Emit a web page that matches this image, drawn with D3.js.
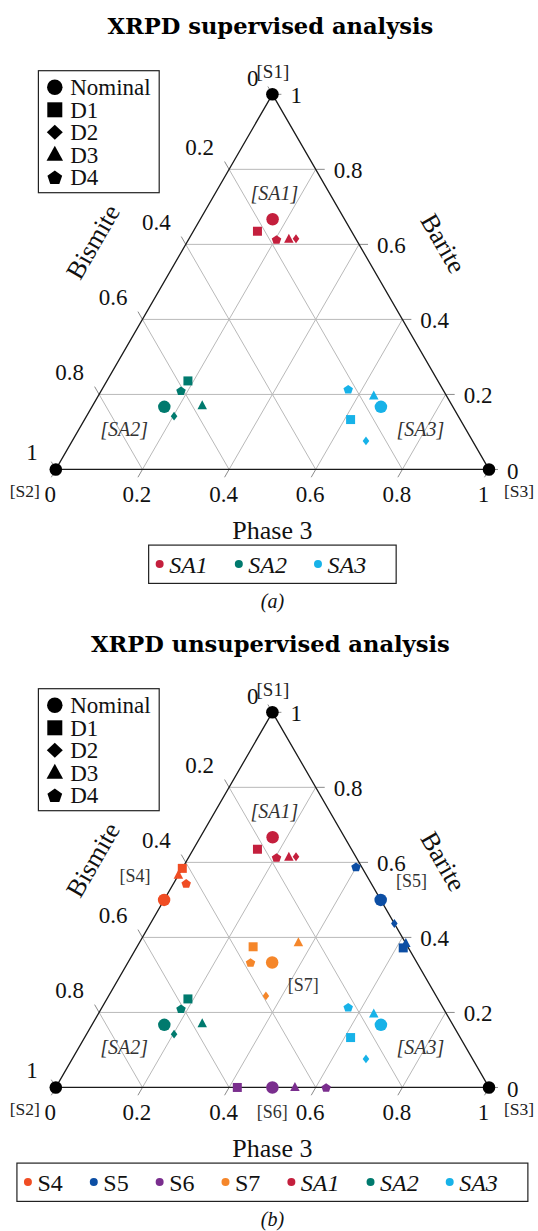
<!DOCTYPE html>
<html><head><meta charset="utf-8">
<script src="https://cdn.jsdelivr.net/npm/d3@7"></script>
<style>body{margin:0;background:#fff}svg{display:block}</style>
</head><body>
<svg id="c" width="538" height="1231"></svg>
<script>
// ---------- data ----------
const markerNames = ["Nominal", "D1", "D2", "D3", "D4"];
const markerShapes = ["circle", "square", "diamond", "triangle", "pentagon"];
const tickValues = [0, 0.2, 0.4, 0.6, 0.8, 1];
const tickLabels = ["0", "0.2", "0.4", "0.6", "0.8", "1"];
const axisNames = ["Bismite", "Barite", "Phase 3"];
const vertexNames = ["[S1]", "[S2]", "[S3]"];

// points: [marker, Barite, Phase 3]   (Bismite = 1 - Barite - Phase 3)
const SA1 = [["Nominal",0.667,0.167],["D1",0.635,0.148],["D2",0.615,0.247],["D3",0.614,0.231],["D4",0.613,0.203]];
const SA2 = [["Nominal",0.167,0.167],["D1",0.236,0.187],["D2",0.142,0.202],["D3",0.170,0.253],["D4",0.210,0.184]];
const SA3 = [["Nominal",0.167,0.667],["D1",0.133,0.614],["D2",0.076,0.678],["D3",0.196,0.636],["D4",0.214,0.568]];
const S4  = [["Nominal",0.500,0.000],["D1",0.584,0.000],["D3",0.566,0.000],["D4",0.544,0.029]];
const S5  = [["Nominal",0.500,0.500],["D1",0.372,0.616],["D2",0.437,0.563],["D3",0.384,0.616],["D4",0.588,0.399]];
const S6  = [["Nominal",0.000,0.500],["D1",0.000,0.419],["D3",0.000,0.552],["D4",0.000,0.624]];
const S7  = [["Nominal",0.333,0.333],["D1",0.375,0.268],["D2",0.244,0.363],["D3",0.386,0.367],["D4",0.333,0.283]];
const seriesNames = ["S4", "S5", "S6", "S7", "SA1", "SA2", "SA3"];
const seriesData = {S4, S5, S6, S7, SA1, SA2, SA3};
const seriesColors = ["#f04d24", "#0c4ea4", "#7a2e8e", "#f5862a", "#c41f3d", "#007a6e", "#17b2e8"];

// region labels: [text, Barite, Phase 3]
const regionsA = [["[SA1]",0.737,0.136],["[SA2]",0.107,0.104],["[SA3]",0.107,0.788]];
const regionsB = [["[SA1]",0.737,0.136],["[SA2]",0.107,0.104],["[SA3]",0.107,0.788],
                  ["[S4]",0.5635,-0.099],["[S5]",0.552,0.545],["[S6]",-0.065,0.532],["[S7]",0.273,0.435]];

const charts = [
  {title: "XRPD supervised analysis", top: 94.3, series: ["SA1","SA2","SA3"], regions: regionsA, caption: "(a)"},
  {title: "XRPD unsupervised analysis", top: 712.3, series: seriesNames, regions: regionsB, caption: "(b)"}
];

// ---------- drawing ----------
const SERIF = "'Liberation Serif', 'Times New Roman', serif";
const svg = d3.select("#c");
const SIDE = 433.2, HT = SIDE * Math.sqrt(3) / 2;
const X0 = 55.8, CX = X0 + SIDE / 2;
const colorOf = d3.scaleOrdinal(seriesNames, seriesColors);
const shapeOf = d3.scaleOrdinal(markerNames, markerShapes);

function shapePath(type, w, h) {
  const p = d3.path();
  if (type === "circle") { p.arc(0, 0, w / 2, 0, 2 * Math.PI); }
  else if (type === "square") { p.rect(-w / 2, -h / 2, w, h); }
  else if (type === "diamond") { p.moveTo(0, -h / 2); p.lineTo(w / 2, 0); p.lineTo(0, h / 2); p.lineTo(-w / 2, 0); p.closePath(); }
  else if (type === "triangle") { p.moveTo(0, -h * 0.6); p.lineTo(w / 2, h * 0.4); p.lineTo(-w / 2, h * 0.4); p.closePath(); }
  else if (type === "pentagon") {
    for (let k = 0; k < 5; k++) {
      const a = -Math.PI / 2 + k * 2 * Math.PI / 5;
      const x = Math.cos(a) * w / 2, y = Math.sin(a) * h / 2 + h * 0.05;
      k ? p.lineTo(x, y) : p.moveTo(x, y);
    }
    p.closePath();
  }
  return p.toString();
}
const plotSize = {circle:[12.5,12.5], square:[9,9], diamond:[6.6,8.8], triangle:[9.5,9], pentagon:[10,9.5]};
const legendSize = {circle:[15.5,15.5], square:[15,15], diamond:[16,15], triangle:[16.5,15], pentagon:[15.5,15]};

charts.forEach(ch => {
  const base = ch.top + HT;
  const xs = d3.scaleLinear().domain([0, 1]).range([X0, X0 + SIDE]);
  const ys = d3.scaleLinear().domain([0, 1]).range([base, ch.top]);
  const P = (ba, p3) => [xs(p3 + ba / 2), ys(ba)];
  const g = svg.append("g");

  // title
  g.append("text").attr("x", CX - 2).attr("y", ch.top - 60.3)
    .attr("text-anchor", "middle").attr("font-family", "'DejaVu Serif', serif")
    .attr("font-weight", "bold").attr("font-size", 22.6).text(ch.title);

  // grid
  const grid = g.append("g").attr("stroke", "#b9b9b9").attr("stroke-width", 1).attr("fill", "none");
  tickValues.filter(v => v > 0 && v < 1).forEach(v => {
    grid.append("line").attr("x1", P(v, 0)[0]).attr("y1", P(v, 0)[1]).attr("x2", P(v, 1 - v)[0]).attr("y2", P(v, 1 - v)[1]);
    grid.append("line").attr("x1", P(0, v)[0]).attr("y1", P(0, v)[1]).attr("x2", P(1 - v, v)[0]).attr("y2", P(1 - v, v)[1]);
    grid.append("line").attr("x1", P(1 - v, 0)[0]).attr("y1", P(1 - v, 0)[1]).attr("x2", P(0, 1 - v)[0]).attr("y2", P(0, 1 - v)[1]);
  });

  // ticks + labels
  const tk = g.append("g").attr("stroke", "#8a8a8a").attr("stroke-width", 1);
  const lab = g.append("g").attr("font-family", SERIF).attr("font-size", 23).attr("fill", "#111");
  const s3 = Math.sqrt(3) / 2, TL = 9;
  tickValues.forEach((v, i) => {
    const t = tickLabels[i];
    // Barite (right)
    let q = P(v, 1 - v);
    tk.append("line").attr("x1", q[0]).attr("y1", q[1]).attr("x2", q[0] + TL).attr("y2", q[1]);
    lab.append("text").attr("x", q[0] + 18).attr("y", q[1] + 1).attr("dy", "0.35em").text(t);
    // Bismite (left)
    q = P(1 - v, 0);
    const dx = v === 0 ? -14 : (v === 1 ? -18 : -15);
    const dyy = v === 0 ? -16 : (v === 1 ? -17.6 : -22.6);
    tk.append("line").attr("x1", q[0]).attr("y1", q[1]).attr("x2", q[0] - TL * 0.5).attr("y2", q[1] - TL * s3);
    lab.append("text").attr("x", q[0] + dx).attr("y", q[1] + dyy)
      .attr("dy", "0.35em").attr("text-anchor", "end").text(t);
    // Phase 3 (bottom)
    q = P(0, v);
    tk.append("line").attr("x1", q[0]).attr("y1", q[1]).attr("x2", q[0] - TL * 0.5).attr("y2", q[1] + TL * s3);
    lab.append("text").attr("x", q[0] - 5.5).attr("y", q[1] + 24).attr("dy", "0.35em")
      .attr("text-anchor", "middle").text(t);
  });

  // triangle outline
  const corners = [P(1, 0), P(0, 0), P(0, 1)];
  g.append("path").attr("d", d3.line()(corners) + "Z").attr("fill", "none")
    .attr("stroke", "#1a1a1a").attr("stroke-width", 1.3);

  // vertex labels
  const vl = g.append("g").attr("font-family", SERIF).attr("fill", "#222").attr("text-anchor", "middle");
  vl.append("text").attr("x", corners[0][0] + 0.5).attr("y", corners[0][1] - 23).attr("dy", "0.35em").attr("font-size", 19).text(vertexNames[0]);
  vl.append("text").attr("x", corners[1][0] - 31).attr("y", corners[1][1] + 21.7).attr("dy", "0.35em").attr("font-size", 17.5).text(vertexNames[1]);
  vl.append("text").attr("x", corners[2][0] + 30).attr("y", corners[2][1] + 21.7).attr("dy", "0.35em").attr("font-size", 17.5).text(vertexNames[2]);

  // axis titles
  const at = g.append("g").attr("font-family", SERIF).attr("font-size", 26).attr("fill", "#111").attr("text-anchor", "middle");
  at.append("text").attr("transform", `translate(${CX - 179.8},${ch.top + 147.4}) rotate(-60)`).attr("dy", "0.35em").text(axisNames[0]);
  at.append("text").attr("transform", `translate(${CX + 171.2},${ch.top + 149}) rotate(60)`).attr("dy", "0.35em").text(axisNames[1]);
  at.append("text").attr("x", CX).attr("y", base + 60).attr("dy", "0.35em").text(axisNames[2]);

  // region labels
  ch.regions.forEach(r => {
    const q = P(r[1], r[2]), ital = r[0].startsWith("[SA");
    g.append("text").attr("x", q[0]).attr("y", q[1]).attr("dy", "0.35em").attr("text-anchor", "middle")
      .attr("font-family", SERIF).attr("font-size", ital ? 20 : 18).attr("font-style", ital ? "italic" : "normal")
      .attr("fill", "#333").text(r[0]);
  });

  // vertex dots
  g.selectAll(".vdot").data(corners).join("circle").attr("cx", d => d[0]).attr("cy", d => d[1]).attr("r", 6.3).attr("fill", "#000");

  // data points
  ch.series.forEach(sn => {
    g.append("g").selectAll("path").data(seriesData[sn]).join("path")
      .attr("transform", d => { const q = P(d[1], d[2]); return `translate(${q[0]},${q[1]})`; })
      .attr("d", d => { const s = shapeOf(d[0]); return shapePath(s, plotSize[s][0], plotSize[s][1]); })
      .attr("fill", colorOf(sn));
  });

  // marker legend (top-left)
  const lg = g.append("g");
  lg.append("rect").attr("x", 38.4).attr("y", ch.top - 23.6).attr("width", 120.8).attr("height", 122)
    .attr("fill", "#fff").attr("stroke", "#222").attr("stroke-width", 1.2);
  markerNames.forEach((m, i) => {
    const y = ch.top - 7 + i * 22.5, s = shapeOf(m);
    lg.append("path").attr("transform", `translate(54.8,${y})`).attr("d", shapePath(s, legendSize[s][0], legendSize[s][1])).attr("fill", "#000");
    lg.append("text").attr("x", 70.2).attr("y", y).attr("dy", "0.35em").attr("font-family", SERIF).attr("font-size", 23).attr("fill", "#111").text(m);
  });

  // series legend (bottom)
  const sg = g.append("g");
  const box = sg.append("rect").attr("y", ch.top + 450.8).attr("height", 38.3).attr("fill", "#fff").attr("stroke", "#222").attr("stroke-width", 1.2);
  const cy = ch.top + 469.8;
  let x = 0;
  const items = sg.append("g");
  ch.series.forEach(sn => {
    const ital = sn.startsWith("SA");
    items.append("circle").attr("cx", x + 4).attr("cy", cy).attr("r", 4).attr("fill", colorOf(sn));
    const t = items.append("text").attr("x", x + 13.5).attr("y", cy).attr("dy", "0.35em").attr("font-family", SERIF)
      .attr("font-size", 24).attr("font-style", ital ? "italic" : "normal").attr("fill", "#111").text(sn);
    x += 13.5 + t.node().getComputedTextLength() + 27;
  });
  const totalW = 7 + x + 3;
  const left = CX - totalW / 2;
  box.attr("x", left).attr("width", totalW);
  items.attr("transform", `translate(${left + 7},0)`);

  // caption
  g.append("text").attr("x", CX).attr("y", ch.top + 506.5).attr("dy", "0.35em").attr("text-anchor", "middle")
    .attr("font-family", SERIF).attr("font-style", "italic").attr("font-size", 20).attr("fill", "#111").text(ch.caption);
});
</script>
</body></html>
